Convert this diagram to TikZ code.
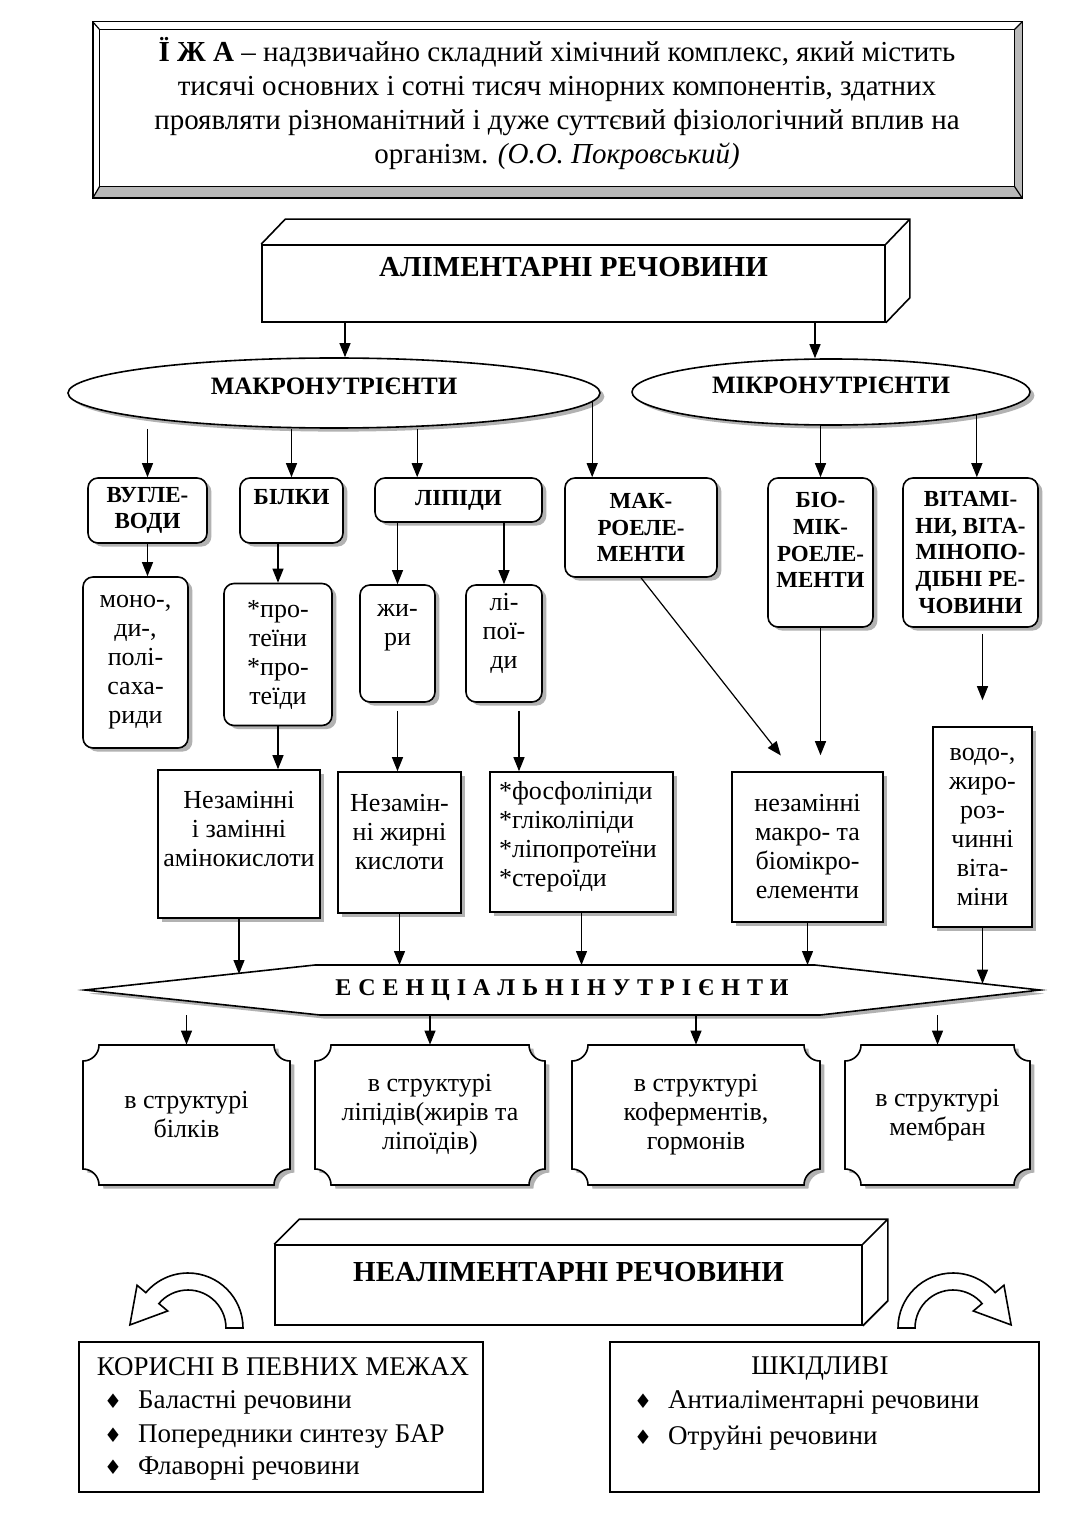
\documentclass[tikz,border=0pt]{standalone}
\usepackage{fontspec}
\setmainfont{Liberation Serif}
\newfontfamily\spacedfont[LetterSpace=29]{Liberation Serif}
\newfontfamily\symbfont{DejaVu Sans}
\usepackage{tikz}
\usetikzlibrary{arrows.meta,positioning,calc,shapes.geometric,shadows}

\tikzset{
  arr/.style={-{Triangle[length=7pt,width=5.5pt]}, line width=0.6pt},
  boxshadow/.style={drop shadow={shadow xshift=2.2pt, shadow yshift=-1.8pt, fill=gray!60, opacity=1}},
  rbox/.style={draw, line width=0.8pt, rounded corners=5pt, fill=white, inner sep=2pt, align=center, boxshadow},
  sbox/.style={draw, line width=0.8pt, fill=white, inner sep=2pt, align=center, boxshadow},
  head/.style={font=\bfseries\fontsize{11.5}{13.4}\selectfont, align=center},
  body/.style={font=\fontsize{13}{14.5}\selectfont, align=center},
  listtxt/.style={font=\fontsize{13.5}{16}\selectfont},
  bigtitle/.style={font=\bfseries\fontsize{14.5}{17}\selectfont},
  oval/.style={ellipse, draw, line width=0.8pt, fill=white, inner sep=0pt, boxshadow,
    text height=8.6pt, text depth=7pt, font=\bfseries\fontsize{12.5}{15}\selectfont},
  listbox/.style={draw, line width=0.8pt, fill=white, inner sep=0pt},
}

\begin{document}
\begin{tikzpicture}[x=0.5pt, y=-0.5pt]
    \fill[white] (0,0) rectangle (1088,1513);
    \useasboundingbox (0,0) rectangle (1088,1513);

    % ---- quote frame ----
    \node[minimum width=464.5pt, minimum height=88pt] (quote) at (557.5,110) {};
    \fill[gray!55] (quote.north east) -- ($(quote.north east)+(-8,8)$) -- ($(quote.south east)+(-8,-12)$)
        -- ($(quote.south west)+(7,-12)$) -- (quote.south west) -- (quote.south east) -- cycle;
    \draw[line width=0.9pt] (quote.north west) rectangle (quote.south east);
    \draw[line width=0.8pt] ($(quote.north west)+(7,8)$) rectangle ($(quote.south east)+(-8,-12)$);
    \draw[line width=0.6pt] (quote.north west) -- ++(7,8) (quote.north east) -- ++(-8,8)
        (quote.south west) -- ++(7,-12) (quote.south east) -- ++(-8,-12);
    \node[align=center, font=\fontsize{14.5}{17}\selectfont] (quotetxt) at (557,104) {%
        \textbf{Ї Ж А} -- надзвичайно складний хімічний комплекс, який містить\\
        тисячі основних і сотні тисяч мінорних компонентів, здатних\\
        проявляти різноманітний і дуже суттєвий фізіологічний вплив на\\
        організм. \textit{(О.О. Покровський)}};

    % ---- alimentary (3d box) ----
    \node[draw, line width=0.8pt, fill=white, minimum width=311.5pt, minimum height=38.5pt] (alim) at (573.5,283.5) {};
    \draw[line width=0.8pt] (alim.north west) -- ++(24,-25) -- ($(alim.north east)+(24,-25)$)
        -- ($(alim.south east)+(24,-25)$) -- (alim.south east) (alim.north east) -- ++(24,-25);
    \node[bigtitle] (alimtxt) at ([yshift=8pt]alim.center) {АЛІМЕНТАРНІ РЕЧОВИНИ};

    % ---- macro / micro ----
    \node[oval, minimum width=266pt, minimum height=35pt] (macro) at (334,393) {МАКРОНУТРІЄНТИ};
    \node[oval, minimum width=199pt, minimum height=33pt] (micro) at (831,392) {МІКРОНУТРІЄНТИ};
    \coordinate (a1) at ($(alim.south)+(-228.5,0)$);
    \coordinate (a2) at ($(alim.south)+(241.5,0)$);
    \draw[arr] (a1) -- (a1 |- macro.north);
    \draw[arr] (a2) -- (a2 |- micro.north);

    % ---- first row ----
    \node[rbox, head, minimum width=59.5pt, minimum height=32.5pt] (vugl) at (147.5,510.5) {ВУГЛЕ-\\ВОДИ};
    \node[rbox, minimum width=51.5pt, minimum height=32.5pt] (bilky) at (291.5,510.5) {};
    \node[head] (bilkytxt) at (291.5,497) {БІЛКИ};
    \node[rbox, head, minimum width=83.5pt, minimum height=22pt] (lipidy) at (458.5,500) {ЛІПІДИ};
    \node[rbox, head, minimum width=76pt, minimum height=49.5pt] (makroel) at (641,527.5) {МАК-\\РОЕЛЕ-\\МЕНТИ};
    \node[rbox, minimum width=52.5pt, minimum height=74.5pt] (biomik) at (820.5,552.5) {};
    \node[head] (biomiktxt) at (820.5,540) {БІО-\\МІК-\\РОЕЛЕ-\\МЕНТИ};
    \node[rbox, head, minimum width=67.5pt, minimum height=74.5pt] (vitam) at (970.5,552.5) {ВІТАМІ-\\НИ, ВІТА-\\МІНОПО-\\ДІБНІ РЕ-\\ЧОВИНИ};

    \coordinate (l1) at ($(lipidy.north west)+(43,0)$);
    \draw[arr] (vugl.north |- macro.south) -- (vugl.north);
    \draw[arr] (bilky.north |- macro.south) -- (bilky.north);
    \draw[arr] (l1 |- macro.south) -- (l1);
    \draw[arr] (macro.-2.8) -- (macro.-2.8 |- makroel.north);
    \draw[arr] (biomik.north |- micro.south) -- (biomik.north);
    \draw[arr] (micro.-9.8) -- (micro.-9.8 |- vitam.north);

    % ---- second row ----
    \node[rbox, body, minimum width=52.5pt, minimum height=85.5pt] (mono) at (135.5,662.5) {моно-,\\ди-,\\полі-\\саха-\\риди};
    \node[rbox, body, minimum width=54pt, minimum height=71pt] (protein) at (278,654.5) {*про-\\теїни\\*про-\\теїди};
    \node[rbox, minimum width=37.5pt, minimum height=58.5pt] (zhyry) at (397.5,643.5) {};
    \node[body] (zhyrytxt) at (397.5,627.5) {жи-\\ри};
    \node[rbox, minimum width=38pt, minimum height=58.5pt] (lipoid) at (504,643.5) {};
    \node[body] (lipoidtxt) at (504,633) {лі-\\пої-\\ди};

    \draw[arr] (vugl.south) -- (vugl.south |- mono.north);
    \draw[arr] (protein.north |- bilky.south) -- (protein.north);
    \draw[arr] (zhyry.north |- lipidy.south) -- (zhyry.north);
    \draw[arr] (lipoid.north |- lipidy.south) -- (lipoid.north);

    % ---- third row ----
    \node[sbox, minimum width=81pt, minimum height=74pt] (amino) at (239,844) {};
    \node[body] (aminotxt) at (239,829) {Незамінні\\і замінні\\амінокислоти};
    \node[sbox, minimum width=61.5pt, minimum height=70.5pt] (fatac) at (399.5,842.5) {};
    \node[body] (fatactxt) at (399.5,832.5) {Незамін-\\ні жирні\\кислоти};
    \node[sbox, minimum width=91.5pt, minimum height=70pt] (phos) at (581.5,842) {};
    \node[body, align=left, anchor=west] (phostxt) at (492,836.5) {*фосфоліпіди\\*гліколіпіди\\*ліпопротеїни\\*стероїди};
    \node[sbox, body, minimum width=75.5pt, minimum height=75pt] (nezam) at (807.5,847) {незамінні\\макро- та\\біомікро-\\елементи};
    \node[sbox, body, minimum width=49.5pt, minimum height=100pt] (vodo) at (982.5,827) {водо-,\\жиро-\\роз-\\чинні\\віта-\\міни};

    \coordinate (l2) at ($(lipoid.south)+(15,0)$);
    \coordinate (m1) at ($(nezam.north west)+(62,0)$);
    \draw[arr] (protein.south) -- (protein.south |- amino.north);
    \draw[arr, shorten <=4pt] (zhyry.south) -- (zhyry.south |- fatac.north);
    \draw[arr, shorten <=4pt] (l2) -- (l2 |- phos.north);
    \draw[arr, shorten >=10pt] (makroel.south) -- (m1);
    \draw[arr, shorten >=8pt] (biomik.south) -- (biomik.south |- nezam.north);
    \draw[arr, shorten <=3pt, shorten >=13pt] (vodo.north |- vitam.south) -- (vodo.north);

    % ---- essential nutrients ----
    \coordinate (hexW) at (85,990);
    \coordinate (hexNW) at (315,965);
    \coordinate (hexNE) at (815,965);
    \coordinate (hexE) at (1040,990);
    \coordinate (hexSE) at (820,1015);
    \coordinate (hexSW) at (320,1015);
    \draw[line width=0.8pt, fill=white, boxshadow] (hexW) -- (hexNW) -- (hexNE) -- (hexE) -- (hexSE) -- (hexSW) -- cycle;
    \node[font=\spacedfont\bfseries\fontsize{12}{14}\selectfont] (ess) at (562,990) {ЕСЕНЦІАЛЬНІНУТРІЄНТИ};

    \coordinate (h1) at ($(hexW)!0.64!(hexNW)$);
    \coordinate (h5) at ($(hexNE)!0.744!(hexE)$);
    \draw[arr] (amino.south) -- (amino.south |- h1);
    \draw[arr] (fatac.south) -- (fatac.south |- hexNW);
    \draw[arr] (phos.south) -- (phos.south |- hexNW);
    \draw[arr] (nezam.south) -- (nezam.south |- hexNW);
    \draw[arr] (vodo.south) -- (vodo.south |- h5);

    % ---- in the structure of ... ----
    \foreach \nm/\xa/\xb/\txt in {sbA/83/290/{в структурі\\білків},
            sbB/315/545/{в структурі\\ліпідів(жирів та\\ліпоїдів)},
            sbC/572/820/{в структурі\\коферментів,\\гормонів},
            sbD/845/1030/{в структурі\\мембран}} {
        \draw[line width=0.8pt, fill=white, boxshadow] (\xa+16,1045) -- (\xb-16,1045)
            arc[start angle=180, end angle=90, radius=16] -- (\xb,1169)
            arc[start angle=270, end angle=180, radius=16] -- (\xa+16,1185)
            arc[start angle=360, end angle=270, radius=16] -- (\xa,1061)
            arc[start angle=90, end angle=0, radius=16] -- cycle;
        \node[body, minimum height=70pt] (\nm) at ({(\xa+\xb)/2},1115) {\txt};
        \draw[arr] (\nm.north |- hexSW) -- (\nm.north);
    }

    % ---- non-alimentary (3d box) ----
    \node[draw, line width=0.8pt, fill=white, minimum width=293.5pt, minimum height=40pt] (nealim) at (568.5,1285) {};
    \draw[line width=0.8pt] (nealim.north west) -- ++(25,-25) -- ($(nealim.north east)+(25,-25)$)
        -- ($(nealim.south east)+(25,-25)$) -- (nealim.south east) (nealim.north east) -- ++(25,-25);
    \node[bigtitle] (nealimtxt) at ([yshift=6.5pt]nealim.center) {НЕАЛІМЕНТАРНІ РЕЧОВИНИ};

    % curved arrows
    \coordinate (cl) at (188,1328);
    \coordinate (cr) at (953,1328);
    \draw[line width=0.8pt, fill=white] ($(cl)+(0:55)$) arc[start angle=0, end angle=-140, radius=55]
        -- ($(cl)+(-140:66.5)$) -- ($(cl)+(-140:46.5)+(-22.5,26.8)$) -- ($(cl)+(-140:26.5)$)
        -- ($(cl)+(-140:38)$) arc[start angle=-140, end angle=0, radius=38] -- cycle;
    \draw[line width=0.8pt, fill=white] ($(cr)+(180:55)$) arc[start angle=180, end angle=320, radius=55]
        -- ($(cr)+(320:66.5)$) -- ($(cr)+(320:46.5)+(22.5,26.8)$) -- ($(cr)+(320:26.5)$)
        -- ($(cr)+(320:38)$) arc[start angle=320, end angle=180, radius=38] -- cycle;

    % ---- useful / harmful ----
    \node[listbox, minimum width=202pt, minimum height=75pt] (useful) at (281,1417) {};
    \node[listtxt] (usefultxt) at (283,1367) {КОРИСНІ В ПЕВНИХ МЕЖАХ};
    \foreach \t/\y [count=\i] in {Баластні речовини/1402, Попередники синтезу БАР/1436, Флаворні речовини/1468} {
        \node[listtxt, anchor=west] (useitem\i) at (97,\y) {\makebox[17pt][l]{\symbfont\fontsize{10}{10}\selectfont ♦}\t};
    }
    \node[listbox, minimum width=214.5pt, minimum height=75pt] (harmful) at (824.5,1417) {};
    \node[listtxt] (harmfultxt) at (820,1369) {ШКІДЛИВІ};
    \foreach \t/\y [count=\i] in {Антиаліментарні речовини/1402, Отруйні речовини/1438} {
        \node[listtxt, anchor=west] (harmitem\i) at (627,\y) {\makebox[17pt][l]{\symbfont\fontsize{10}{10}\selectfont ♦}\t};
    }

\end{tikzpicture}
\end{document}
